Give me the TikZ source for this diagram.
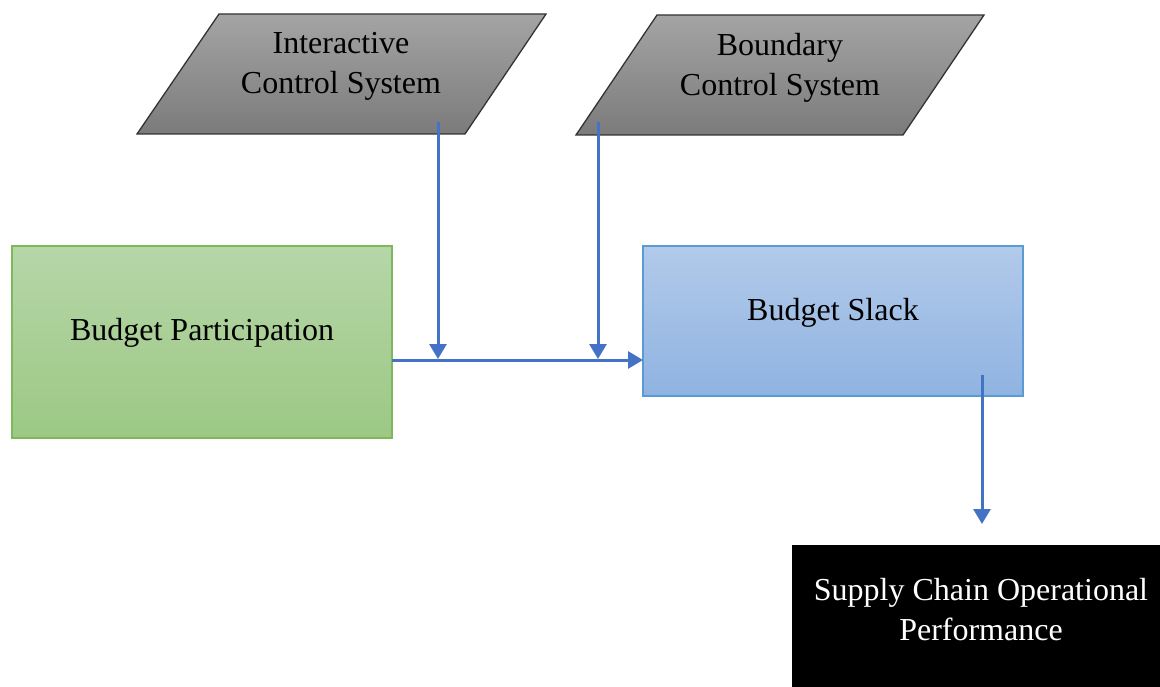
\documentclass[tikz,border=0pt]{standalone}
\usepackage{fontspec}
\setmainfont{Liberation Serif}
\usetikzlibrary{arrows.meta}
\definecolor{arrowblue}{HTML}{4472C4}
\definecolor{greentop}{HTML}{B6D6A8}
\definecolor{greenbot}{HTML}{9CC884}
\definecolor{greenline}{HTML}{7DB85C}
\definecolor{bluetop}{HTML}{B2CAEA}
\definecolor{bluebot}{HTML}{8FB3E1}
\definecolor{blueline}{HTML}{5B9BD5}
\definecolor{graytop}{HTML}{A4A4A4}
\definecolor{graybot}{HTML}{7B7B7B}
\tikzset{
  lbl/.style={font=\fontsize{32}{40}\selectfont, align=center, inner sep=0pt},
  conn/.style={draw=arrowblue, line width=3pt, -{Triangle[length=15pt,width=17pt]}},
  pgram/.style={draw=black!80, line width=1.3pt, top color=graytop, bottom color=graybot},
}
\begin{document}
\begin{tikzpicture}[x=1pt,y=-1pt]
\useasboundingbox (0,0) rectangle (1160,687);
% parallelograms
\path[pgram] (219,14) -- (546,14) -- (465,134) -- (137,134) -- cycle;
\node[lbl] (ics) at (341,66) {Interactive\\Control System};
\path[pgram] (657,15) -- (984,15) -- (903,135) -- (576,135) -- cycle;
\node[lbl] (bcs) at (780,68) {Boundary\\Control System};
% boxes
\path[draw=greenline, line width=1.2pt, top color=greentop, bottom color=greenbot] (12,246) rectangle (392,438);
\node[lbl] (bp) at (202,333) {Budget Participation};
\path[draw=blueline, line width=1.2pt, top color=bluetop, bottom color=bluebot] (643,246) rectangle (1023,396);
\node[lbl] (bs) at (833,313) {Budget Slack};
\fill[black] (792,545) rectangle (1160,687);
\node[lbl, text=white] (scp) at (981,610) {Supply Chain Operational\\Performance};
% connector anchors
\coordinate (bpout) at (392,360);
\coordinate (bsin) at (643,360);
\coordinate (icsout) at (438,122);
\coordinate (icsin) at (438,359);
\coordinate (bcsout) at (598,122);
\coordinate (bcsin) at (598,359);
\coordinate (bsout) at (982,375);
\coordinate (scpin) at (982,524);
\draw[conn] (bpout) -- (bsin);
\draw[conn] (icsout) -- (icsin);
\draw[conn] (bcsout) -- (bcsin);
\draw[conn] (bsout) -- (scpin);
\end{tikzpicture}
\end{document}
